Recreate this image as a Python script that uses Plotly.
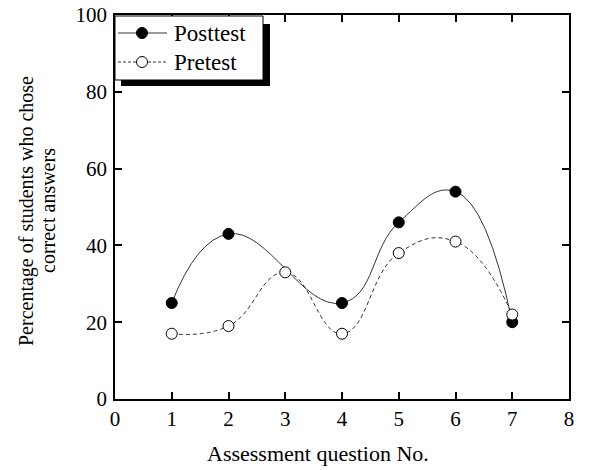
import plotly.graph_objects as go

# Data
post_x = [1, 2, 4, 5, 6, 7]
post_y = [25, 43, 25, 46, 54, 20]
pre_x = [1, 2, 3, 4, 5, 6, 7]
pre_y = [17, 19, 33, 17, 38, 41, 22]
x_ticks = [0, 1, 2, 3, 4, 5, 6, 7, 8]
y_ticks = [0, 20, 40, 60, 80, 100]
series_names = ["Posttest", "Pretest"]
x_title = "Assessment question No."
y_title_lines = ["Percentage of students who chose", "correct answers"]

FONT = "Liberation Serif"
LINE_COL = "#333333"

fig = go.Figure()
fig.add_trace(go.Scatter(
    x=post_x, y=post_y, name=series_names[0], mode="lines+markers",
    line=dict(color=LINE_COL, width=1, shape="spline", smoothing=1.3),
    marker=dict(symbol="circle", size=11, color="black",
                line=dict(color="black", width=1)),
    showlegend=False,
))
fig.add_trace(go.Scatter(
    x=pre_x, y=pre_y, name=series_names[1], mode="lines+markers",
    line=dict(color=LINE_COL, width=1, shape="spline", smoothing=1.3, dash="4px,3px"),
    marker=dict(symbol="circle", size=11, color="white",
                line=dict(color="black", width=1)),
    showlegend=False,
))

# page geometry (body margin removed by post_script)
PL, PR, PT, PB = 115, 569, 15, 399   # plot area in page pixels
W, H = 598, 470
pw, ph = PR - PL, PB - PT
L, T = PL, PT
R, B = W - PR, H - PB


def fx(p):
    return (p - PL) / pw


def fy(p):
    return (PB - p) / ph


# hand-drawn legend box with shadow
shapes = [
    dict(type="rect", xref="paper", yref="paper",
         x0=fx(121), x1=fx(270), y0=fy(86), y1=fy(24),
         fillcolor="black", line=dict(width=0), layer="above"),
    dict(type="rect", xref="paper", yref="paper",
         x0=fx(115), x1=fx(263), y0=fy(80), y1=fy(16),
         fillcolor="white", line=dict(color="black", width=1), layer="above"),
]
rows = [33, 62]
for i, yy in enumerate(rows):
    shapes.append(dict(type="line", xref="paper", yref="paper",
                       x0=fx(118), x1=fx(167), y0=fy(yy), y1=fy(yy),
                       line=dict(color=LINE_COL, width=1,
                                 dash="solid" if i == 0 else "3px,2px"),
                       layer="above"))
    r = 5.5
    shapes.append(dict(type="circle", xref="paper", yref="paper",
                       x0=fx(142 - r), x1=fx(142 + r), y0=fy(yy + r), y1=fy(yy - r),
                       fillcolor="black" if i == 0 else "white",
                       line=dict(color="black", width=1), layer="above"))

annotations = []
for i, yy in enumerate(rows):
    annotations.append(dict(text=series_names[i], xref="paper", yref="paper",
                            x=fx(172), y=fy(yy), xanchor="left", yanchor="middle",
                            showarrow=False, font=dict(family=FONT, size=23, color="black")))
annotations.append(dict(text=x_title, xref="paper", yref="paper",
                        x=fx(318), y=fy(453), xanchor="center", yanchor="middle",
                        showarrow=False, font=dict(family=FONT, size=22, color="black")))
for xx, line in zip([26, 48], y_title_lines):
    annotations.append(dict(text=line, xref="paper", yref="paper",
                            x=fx(xx), y=fy(211), xanchor="center", yanchor="middle",
                            textangle=-90, showarrow=False,
                            font=dict(family=FONT, size=20, color="black")))

axis_common = dict(
    showline=True, linecolor="black", linewidth=1.5, mirror="allticks",
    ticks="inside", ticklen=7, tickwidth=1.5, tickcolor="black",
    showgrid=False, zeroline=False, automargin=False,
    ticklabeloverflow="allow",
    tickfont=dict(family=FONT, size=21, color="black"),
)

fig.update_layout(
    width=W, height=H,
    margin=dict(l=L, r=R, t=T, b=B, pad=0),
    paper_bgcolor="white", plot_bgcolor="white",
    font=dict(family=FONT, size=21, color="black"),
    xaxis=dict(range=[0, 8], tickvals=x_ticks, **axis_common),
    yaxis=dict(range=[0, 100], tickvals=y_ticks, ticklabelstandoff=2, **axis_common),
    shapes=shapes,
    annotations=annotations,
    showlegend=False,
)

fig.write_html("out.html", config={"displayModeBar": False},
               post_script="document.body.style.margin='0';")
